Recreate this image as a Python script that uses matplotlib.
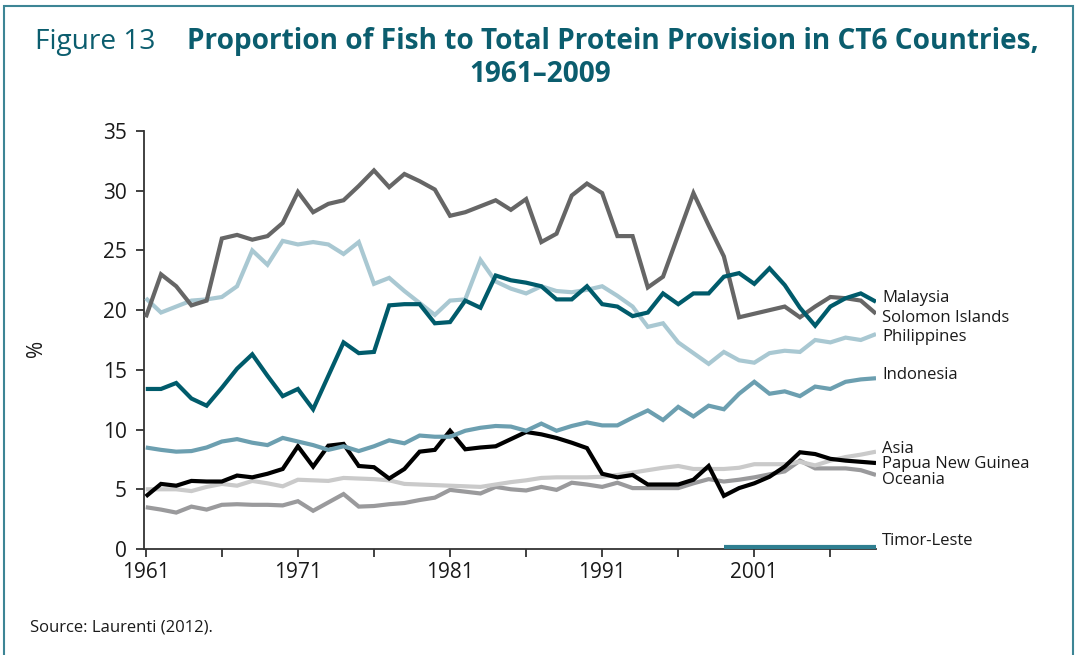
import numpy as np
import matplotlib
matplotlib.use("Agg")
import matplotlib.pyplot as plt
from matplotlib.patches import Rectangle

# ---------------------------
# ------ DATA -----
# ---------------------------
years = list(range(1961, 2010))

malaysia = [13.4, 13.4, 13.9, 12.6, 12.0, 13.5, 15.1, 16.3, 14.5, 12.8,
            13.4, 11.7, 14.5, 17.3, 16.4, 16.5, 20.4, 20.5, 20.5, 18.9,
            19.0, 20.8, 20.2, 22.9, 22.5, 22.3, 22.0, 20.9, 20.9, 22.0,
            20.5, 20.3, 19.5, 19.8, 21.4, 20.5, 21.4, 21.4, 22.8, 23.1,
            22.2, 23.5, 22.1, 20.2, 18.7, 20.3, 21.0, 21.4, 20.7]

solomon = [19.4, 23.0, 22.0, 20.4, 20.8, 26.0, 26.3, 25.9, 26.2, 27.3,
           29.9, 28.2, 28.9, 29.2, 30.4, 31.7, 30.3, 31.4, 30.8, 30.1,
           27.9, 28.2, 28.7, 29.2, 28.4, 29.3, 25.7, 26.4, 29.6, 30.6,
           29.8, 26.2, 26.2, 21.9, 22.8, 26.3, 29.8, 27.1, 24.5, 19.4,
           19.7, 20.0, 20.3, 19.4, 20.3, 21.1, 21.0, 20.8, 19.7]

philippines = [21.0, 19.8, 20.3, 20.8, 20.9, 21.1, 22.0, 25.0, 23.8, 25.8,
               25.5, 25.7, 25.5, 24.7, 25.7, 22.2, 22.7, 21.6, 20.6, 19.6,
               20.8, 20.9, 24.2, 22.4, 21.8, 21.4, 22.0, 21.6, 21.5, 21.7,
               22.0, 21.2, 20.3, 18.6, 18.9, 17.3, 16.4, 15.5, 16.5, 15.8,
               15.6, 16.4, 16.6, 16.5, 17.5, 17.3, 17.7, 17.5, 18.0]

indonesia = [8.5, 8.3, 8.15, 8.2, 8.5, 9.0, 9.2, 8.9, 8.7, 9.3,
             9.0, 8.7, 8.3, 8.6, 8.2, 8.6, 9.1, 8.85, 9.5, 9.4,
             9.4, 9.9, 10.15, 10.3, 10.25, 9.9, 10.5, 9.9, 10.3, 10.6,
             10.35, 10.35, 11.0, 11.6, 10.8, 11.9, 11.1, 12.0, 11.7, 13.0,
             14.0, 13.0, 13.2, 12.8, 13.6, 13.4, 14.0, 14.2, 14.3]

asia = [5.0, 5.0, 5.0, 4.85, 5.2, 5.45, 5.3, 5.7, 5.5, 5.25,
        5.8, 5.75, 5.7, 5.95, 5.9, 5.85, 5.75, 5.45, 5.4, 5.35,
        5.3, 5.25, 5.2, 5.4, 5.6, 5.75, 5.95, 6.0, 6.0, 6.0,
        6.05, 6.2, 6.4, 6.6, 6.8, 6.95, 6.7, 6.7, 6.7, 6.8,
        7.1, 7.1, 7.1, 7.3, 7.0, 7.4, 7.7, 7.9, 8.15]

png = [4.4, 5.45, 5.3, 5.7, 5.65, 5.65, 6.15, 6.0, 6.3, 6.7,
       8.6, 6.9, 8.65, 8.8, 6.95, 6.85, 5.9, 6.7, 8.15, 8.3,
       9.9, 8.35, 8.5, 8.6, 9.2, 9.8, 9.6, 9.3, 8.9, 8.45,
       6.3, 6.0, 6.2, 5.4, 5.4, 5.4, 5.8, 6.95, 4.45, 5.1,
       5.5, 6.05, 6.9, 8.1, 7.95, 7.55, 7.4, 7.3, 7.2]

oceania = [3.5, 3.3, 3.05, 3.55, 3.3, 3.7, 3.75, 3.7, 3.7, 3.65,
           4.0, 3.2, 3.9, 4.6, 3.55, 3.6, 3.75, 3.85, 4.1, 4.3,
           4.95, 4.8, 4.65, 5.2, 5.0, 4.9, 5.2, 4.95, 5.55, 5.4,
           5.2, 5.55, 5.1, 5.1, 5.1, 5.1, 5.5, 5.85, 5.65, 5.8,
           6.0, 6.25, 6.5, 7.4, 6.75, 6.75, 6.75, 6.6, 6.2]

timor_years = [1999, 2000, 2001, 2002, 2003, 2004, 2005, 2006, 2007, 2008, 2009]
timor = [0.2, 0.2, 0.2, 0.2, 0.2, 0.2, 0.2, 0.2, 0.2, 0.2, 0.2]

# ---------------------------
# ------ STYLE -----
# ---------------------------
plt.rcParams['font.family'] = ['Open Sans', 'DejaVu Sans']
TEAL = '#0b5d6e'

# name, x, y, colour, label y position
series = [
    ('Timor-Leste', timor_years, timor, '#2f7f91', 0.7),
    ('Oceania', years, oceania, '#9a9a9c', 5.8),
    ('Asia', years, asia, '#cacaca', 8.4),
    ('Papua New Guinea', years, png, '#000000', 7.1),
    ('Indonesia', years, indonesia, '#6c9fb0', 14.6),
    ('Philippines', years, philippines, '#a9c8d2', 17.75),
    ('Solomon Islands', years, solomon, '#666666', 19.35),
    ('Malaysia', years, malaysia, '#005b6b', 21.0),
]

fig = plt.figure(figsize=(10.78, 6.55), dpi=100)
ax = fig.add_axes([143.5 / 1078, 1 - 549 / 655, (876 - 143.5) / 1078, (549 - 131) / 655])

for name, xs, ys, col, ylab in series:
    ax.plot(xs, ys, color=col, lw=3.0, solid_capstyle='butt', solid_joinstyle='miter', zorder=3)
    ax.annotate(name, xy=(2009, ylab), xytext=(4.5, 0), textcoords='offset points',
                va='center', ha='left', fontsize=12, color='#1a1a1a',
                annotation_clip=False)

ax.set_xlim(1960.85, 2009)
ax.set_ylim(0, 35)
ax.set_yticks(range(0, 36, 5))
ax.set_xticks(range(1961, 2009, 5))
ax.set_xticklabels([str(y) if (y - 1961) % 10 == 0 else '' for y in range(1961, 2009, 5)])

for s in ['top', 'right']:
    ax.spines[s].set_visible(False)
for s in ['left', 'bottom']:
    ax.spines[s].set_color('#333333')
    ax.spines[s].set_linewidth(1.3)
ax.tick_params(axis='both', labelsize=15, colors='#1a1a1a', length=6, width=1.3, color='#333333')
ax.tick_params(axis='y', pad=6)
ax.tick_params(axis='x', pad=3)
ax.set_ylabel('%', fontsize=15, color='#1a1a1a')
ax.yaxis.set_label_coords((47 - 143.5) / (876 - 143.5), (549 - 348) / (549 - 131))

# title
fig.text(35 / 1078, 1 - 42 / 655, 'Figure 13', fontsize=20.2, color=TEAL, va='center', ha='left')
fig.text(187 / 1078, 1 - 42 / 655, 'Proportion of Fish to Total Protein Provision in CT6 Countries,',
         fontsize=20.2, fontweight='bold', color=TEAL, va='center', ha='left')
fig.text(540 / 1078, 1 - 75 / 655, '1961\u20132009', fontsize=20.2, fontweight='bold',
         color=TEAL, va='center', ha='center')

fig.text(30 / 1078, 1 - 627 / 655, 'Source: Laurenti (2012).', fontsize=12, color='#1a1a1a',
         va='center', ha='left')

# frame round the whole figure (open at the bottom)
fig.patches.append(Rectangle((4 / 1078, -0.02), (1073 - 4) / 1078, 1.02 - 6 / 655,
                             transform=fig.transFigure, fill=False,
                             edgecolor='#3d8595', lw=1.5))

fig.savefig('out.png', dpi=100)
